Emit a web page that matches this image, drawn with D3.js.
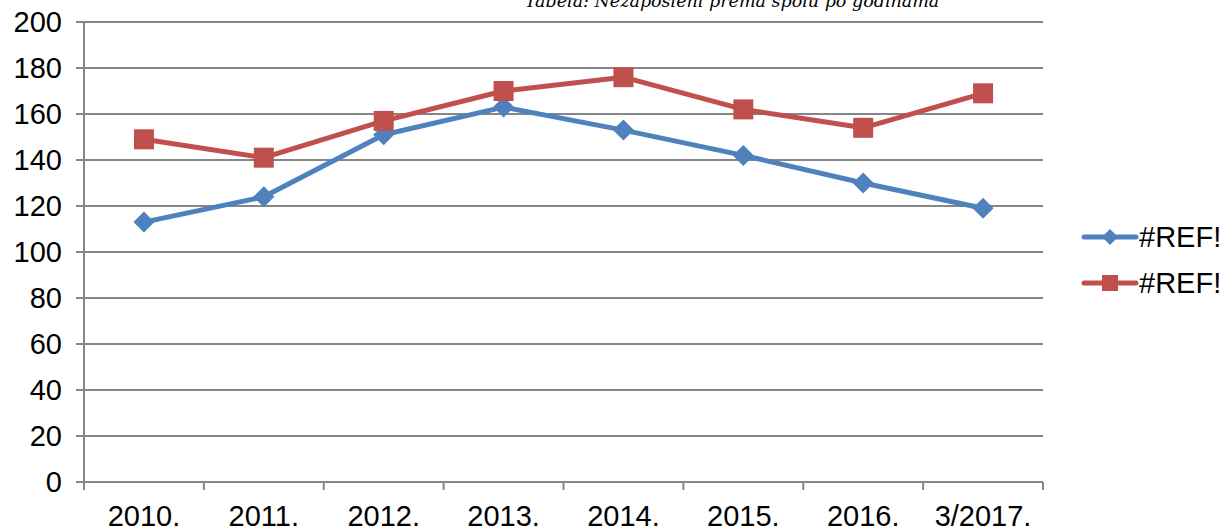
<!DOCTYPE html>
<html>
<head>
<meta charset="utf-8">
<title>Nezaposleni</title>
<script src="https://d3js.org/d3.v7.min.js"></script>
<style>
  body { margin: 0; background: #fff; }
  svg { display: block; }
  text { font-family: "Liberation Sans", Arial, sans-serif; fill: #000; }
</style>
</head>
<body>
<svg id="chart" width="1227" height="528"></svg>
<script>
// data
var godine = ["2010.", "2011.", "2012.", "2013.", "2014.", "2015.", "2016.", "3/2017."];
var plavi = [113, 124, 151, 163, 153, 142, 130, 119];
var crveni = [149, 141, 157, 170, 176, 162, 154, 169];
var serije = [
  { ime: "#REF!", vrijednosti: plavi, boja: "#4f81bd", znak: "diamond" },
  { ime: "#REF!", vrijednosti: crveni, boja: "#c0504d", znak: "square" }
];
var yTicks = [0, 20, 40, 60, 80, 100, 120, 140, 160, 180, 200];
var naslov = "Tabela: Nezaposleni prema spolu po godinama";

var svg = d3.select("#chart");
var pLeft = 84, pRight = 1043, pTop = 22, pBottom = 482;
var siva = "#868686";

var x = d3.scaleBand().domain(godine).range([pLeft, pRight]);
var y = d3.scaleLinear().domain([0, 200]).range([pBottom, pTop]);

// title, clipped by the top edge
svg.append("text")
  .attr("x", 732).attr("y", 7)
  .attr("text-anchor", "middle")
  .style("font-family", "'DejaVu Serif', serif")
  .style("font-style", "italic")
  .style("font-size", "17.5px")
  .text(naslov);

// grid
svg.append("g").selectAll("line").data(yTicks).join("line")
  .attr("x1", pLeft - 8).attr("x2", pRight)
  .attr("y1", d => y(d)).attr("y2", d => y(d))
  .attr("stroke", siva).attr("stroke-width", 2);

svg.append("line")
  .attr("x1", pLeft).attr("x2", pLeft).attr("y1", pTop).attr("y2", pBottom + 8)
  .attr("stroke", siva).attr("stroke-width", 2);

var xt = godine.map(g => x(g)).concat([pRight]);
svg.append("g").selectAll("line").data(xt).join("line")
  .attr("x1", d => d).attr("x2", d => d)
  .attr("y1", pBottom).attr("y2", pBottom + 8)
  .attr("stroke", siva).attr("stroke-width", 2);

svg.append("g").selectAll("text").data(yTicks).join("text")
  .attr("x", 62).attr("y", d => y(d))
  .attr("dy", "0.36em")
  .attr("text-anchor", "end")
  .style("font-size", "29px")
  .text(d => d);

svg.append("g").selectAll("text").data(godine).join("text")
  .attr("x", d => x(d) + x.bandwidth() / 2).attr("y", 526)
  .attr("text-anchor", "middle")
  .style("font-size", "29px")
  .text(d => d);

var linija = d3.line()
  .x((d, i) => x(godine[i]) + x.bandwidth() / 2)
  .y(d => y(d));

function znak(g, s, cx, cy, vel) {
  if (s.znak === "diamond") {
    g.append("path")
      .attr("d", `M${cx},${cy - vel}L${cx + vel},${cy}L${cx},${cy + vel}L${cx - vel},${cy}Z`)
      .attr("fill", s.boja);
  } else {
    g.append("rect")
      .attr("x", cx - vel).attr("y", cy - vel)
      .attr("width", vel * 2).attr("height", vel * 2)
      .attr("fill", s.boja);
  }
}

serije.forEach(function(s) {
  var g = svg.append("g");
  g.append("path")
    .attr("d", linija(s.vrijednosti))
    .attr("fill", "none")
    .attr("stroke", s.boja)
    .attr("stroke-width", 5)
    .attr("stroke-linejoin", "round");
  s.vrijednosti.forEach(function(v, i) {
    znak(g, s, x(godine[i]) + x.bandwidth() / 2, y(v), s.znak === "diamond" ? 10.5 : 10);
  });
});

// legend
serije.forEach(function(s, i) {
  var ly = 237 + i * 46;
  var g = svg.append("g");
  g.append("line")
    .attr("x1", 1084).attr("x2", 1136).attr("y1", ly).attr("y2", ly)
    .attr("stroke", s.boja).attr("stroke-width", 5).attr("stroke-linecap", "round");
  znak(g, s, 1110, ly, 8);
  g.append("text")
    .attr("x", 1139).attr("y", ly).attr("dy", "0.36em")
    .style("font-size", "29px")
    .text(s.ime);
});
</script>
</body>
</html>
